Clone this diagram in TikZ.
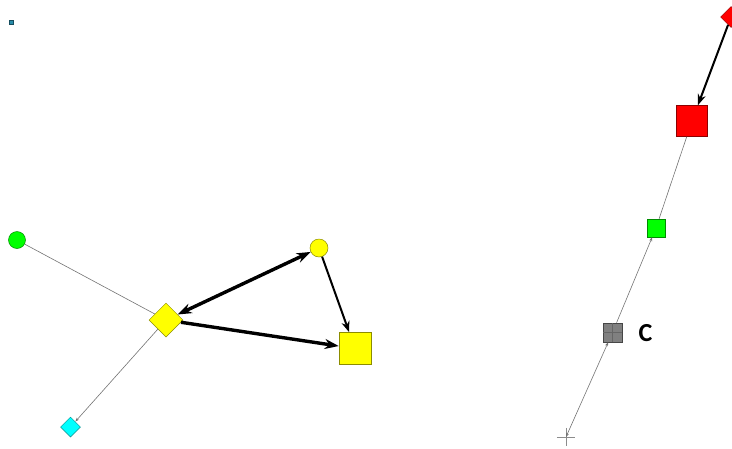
\documentclass[tikz,border=0pt]{standalone}
\usepackage{fontspec}
\setsansfont{Carlito}
\usetikzlibrary{shapes.geometric,arrows.meta}
\definecolor{cR}{RGB}{255,0,0}
\definecolor{cG}{RGB}{0,255,0}
\definecolor{cY}{RGB}{255,255,0}
\definecolor{cC}{RGB}{0,255,255}
\definecolor{cGr}{RGB}{128,128,128}
\definecolor{cB}{RGB}{40,140,170}
\begin{document}
\begin{tikzpicture}[x=1pt,y=-1pt,
  sq/.style={rectangle,draw=#1!55!black,fill=#1,inner sep=0pt,line width=0.5pt},
  dia/.style={diamond,aspect=1,draw=#1!55!black,fill=#1,inner sep=0pt,line width=0.5pt},
  circ/.style={circle,draw=#1!55!black,fill=#1,inner sep=0pt,line width=0.5pt},
  thinline/.style={draw=black!55,line width=0.6pt},
  thinarrow/.style={thinline,-{Stealth[length=4pt,width=3pt]}},
  thickarrow/.style={line width=3.4pt,-{Stealth[length=14pt,width=10pt]}},
  medarrow/.style={line width=2pt,-{Stealth[length=11pt,width=8pt]}},
  lbl/.style={font=\sffamily\bfseries\fontsize{26}{26}\selectfont,inner sep=0pt}
]
\useasboundingbox (0,0) rectangle (732,448);
% nodes
\node[sq=cB,minimum size=4pt] (bs) at (11,22) {};
\node[dia=cR,minimum size=21pt] (rd) at (731,17) {};
\node[sq=cR,minimum size=31pt] (rs) at (692,121) {};
\node[sq=cG,minimum size=18pt] (gs) at (656,228) {};
\node[sq=cGr,minimum size=19pt] (gr) at (612.5,332.5) {};
\draw[black!60,line width=0.6pt] (gr.north)--(gr.south) (gr.west)--(gr.east);
\node[lbl] (c) at (645.5,333.5) {C};
\node[rectangle,inner sep=0pt,minimum size=18pt] (p) at (566,437) {};
\draw[black!45,line width=0.8pt] (p.north)--(p.south) (p.west)--(p.east);
\node[circ=cG,minimum size=17pt] (gc) at (17,240) {};
\node[dia=cY,minimum size=34pt] (yd) at (166,320) {};
\node[circ=cY,minimum size=18pt] (yc) at (319,248) {};
\node[sq=cY,minimum size=32pt] (ys) at (355,348.5) {};
\node[dia=cC,minimum size=20pt] (cd) at (70.5,427) {};
% edges
\draw[medarrow] (rd) -- (rs);
\draw[thinline] (rs) -- (gs);
\draw[thinarrow] (gr) -- (gs);
\draw[thinarrow,{Stealth[length=4pt,width=3pt]}-{Stealth[length=4pt,width=3pt]}] (gr) -- (p.center);
\draw[thinline] (gc) -- (yd);
\draw[thinarrow] (yd) -- (cd);
\draw[line width=3.4pt,{Stealth[length=14pt,width=10pt]}-{Stealth[length=14pt,width=10pt]}] (yd) -- (yc);
\draw[thickarrow] (yd) -- (ys);
\draw[medarrow] (yc) -- (ys);
\end{tikzpicture}
\end{document}
